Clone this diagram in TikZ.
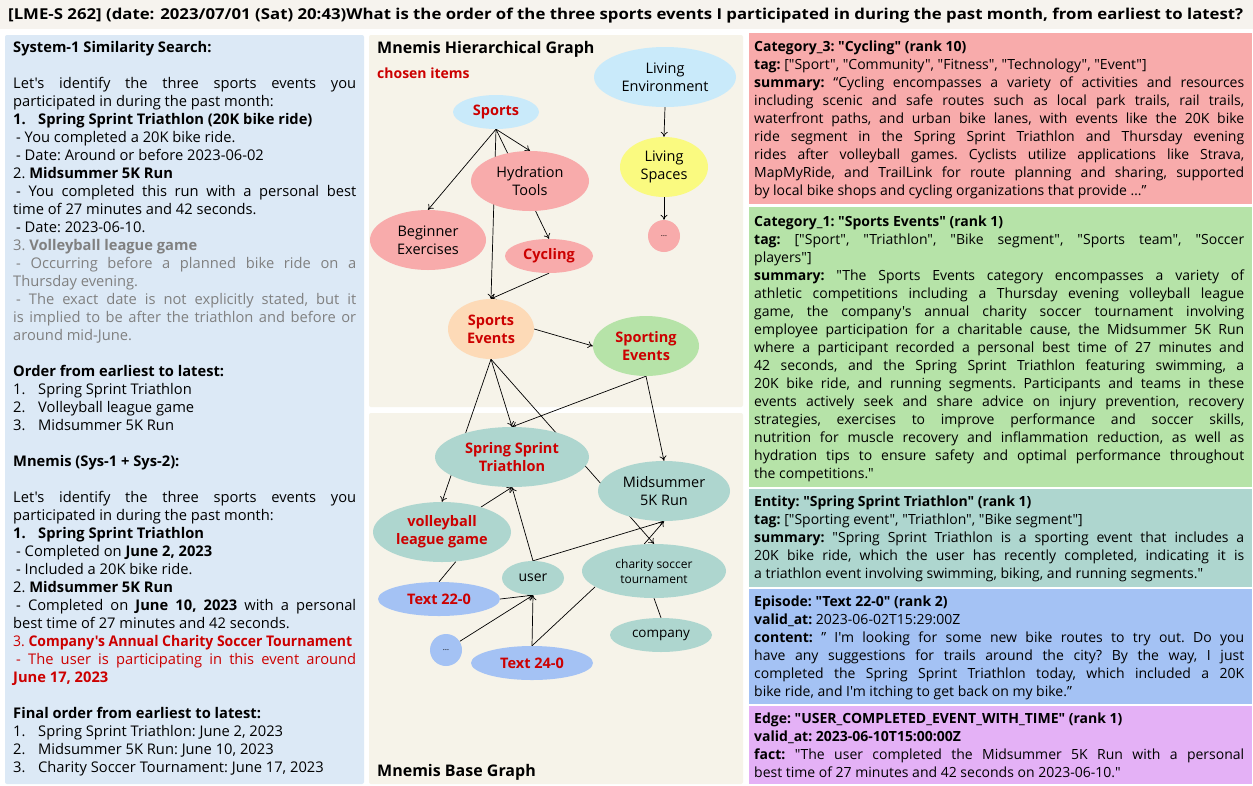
\documentclass[tikz,border=0pt]{standalone}
\usepackage{fontspec}
\usepackage{graphicx}
\setmainfont{Open Sans}[Ligatures=TeXOff]
\usetikzlibrary{shapes.geometric,arrows.meta}
\definecolor{titlebg}{HTML}{F6F3EE}
\definecolor{leftbg}{HTML}{DCE9F6}
\definecolor{midbg}{HTML}{F6F3E9}
\definecolor{cred}{HTML}{F8ABAB}
\definecolor{cgreen}{HTML}{B6E3A8}
\definecolor{cteal}{HTML}{AED6CF}
\definecolor{cblue}{HTML}{A4C2F4}
\definecolor{cpurple}{HTML}{E4B1F6}
\definecolor{clblue}{HTML}{C9EAFA}
\definecolor{cyellow}{HTML}{FAFA80}
\definecolor{cpeach}{HTML}{FDDAB7}
\definecolor{tred}{HTML}{CC0000}
\definecolor{tgray}{HTML}{808080}
\pgfdeclarelayer{bg}\pgfdeclarelayer{edges}\pgfsetlayers{bg,edges,main}
\newcommand\jline[1]{{\makebox[\linewidth][s]{#1}\par}}
\newcommand\pline[1]{{\mbox{#1}\par}}
\newcommand\fitline[2]{{\resizebox{#1}{\height}{#2}\par}}
\newcommand\blank{\mbox{}\par}
\newcommand\num[1]{\makebox[25pt][l]{#1}}
\newsavebox\titlebox
\tikzset{
  panel/.style={rounded corners=2pt, draw=none},
  txt/.style={anchor=base west, inner sep=0pt, font=\fontsize{14}{18}\selectfont\frenchspacing},
  ltxt/.style={anchor=base west, inner sep=0pt, font=\fontsize{14.7}{18}\selectfont\frenchspacing},
  el/.style n args={3}{ellipse, minimum width=#1pt, minimum height=#2pt, fill=#3, inner sep=0pt, align=center, font=\fontsize{14.5}{18}\selectfont},
  chosen/.style={text=tred, font=\fontsize{14.5}{18}\selectfont\bfseries},
  arr/.style={-{To[length=5pt,width=7pt]}, line width=0.7pt},
  ln/.style={line width=0.7pt},
  head/.style={anchor=base west, inner sep=0pt, font=\fontsize{16}{18}\selectfont\bfseries}
}
\begin{document}
\begin{tikzpicture}[x=1pt,y=-1pt]
\useasboundingbox (0,0) rectangle (1253,785);
\begin{pgfonlayer}{bg}
\fill[white] (0,0) rectangle (1253,785);
\fill[titlebg] (0,0) rectangle (1253,29);
\fill[panel, leftbg] (5,35) rectangle (364,784);
\fill[panel, midbg] (369,35) rectangle (743,407);
\fill[panel, midbg] (369,413) rectangle (743,784);
\fill[cred] (749,33) rectangle (1252,204);
\fill[cgreen] (749,207) rectangle (1252,487);
\fill[cteal] (749,489) rectangle (1252,587);
\fill[cblue] (749,589) rectangle (1252,704);
\fill[cpurple] (749,706) rectangle (1252,784);
\end{pgfonlayer}

% title
\node[anchor=base west, inner sep=0pt, font=\fontsize{15}{18}\selectfont\bfseries] (title) at (8,19.5)
 {\sbox\titlebox{[LME-S 262] (date: 2023/07/01 (Sat) 20:43)What is the order of the three sports events I participated in during the past month, from earliest to latest?}\resizebox{1235pt}{\height}{\usebox\titlebox}};

% left panel
\node[ltxt] (lefttext) at (13,52.5) {\begin{minipage}[t]{343pt}
\pline{\textbf{System-1 Similarity Search:}}
\blank
\jline{Let's identify the three sports events you}
\pline{participated in during the past month:}
\pline{\textbf{\num{1.}Spring Sprint Triathlon (20K bike ride)}}
\pline{\hspace{3pt}- You completed a 20K bike ride.}
\pline{\hspace{3pt}- Date: Around or before 2023-06-02}
\pline{2. \textbf{Midsummer 5K Run}}
\jline{\hspace{3pt}- You completed this run with a personal best}
\pline{time of 27 minutes and 42 seconds.}
\pline{\hspace{3pt}- Date: 2023-06-10.}
\pline{\color{tgray}3. \textbf{Volleyball league game}}
\jline{\color{tgray}\hspace{3pt}- Occurring before a planned bike ride on a}
\pline{\color{tgray}Thursday evening.}
\jline{\color{tgray}\hspace{3pt}- The exact date is not explicitly stated, but it}
\jline{\color{tgray}is implied to be after the triathlon and before or}
\pline{\color{tgray}around mid-June.}
\blank
\pline{\textbf{Order from earliest to latest:}}
\pline{\num{1.}Spring Sprint Triathlon}
\pline{\num{2.}Volleyball league game}
\pline{\num{3.}Midsummer 5K Run}
\blank
\pline{\textbf{Mnemis (Sys-1 + Sys-2):}}
\blank
\jline{Let's identify the three sports events you}
\pline{participated in during the past month:}
\pline{\textbf{\num{1.}Spring Sprint Triathlon}}
\pline{\hspace{3pt}- Completed on \textbf{June 2, 2023}}
\pline{\hspace{3pt}- Included a 20K bike ride.}
\pline{2. \textbf{Midsummer 5K Run}}
\jline{\hspace{3pt}- Completed on \textbf{June 10, 2023} with a personal}
\pline{best time of 27 minutes and 42 seconds.}
\fitline{339pt}{\color{tred}3. \textbf{Company's Annual Charity Soccer Tournament}}
\jline{\color{tred}\hspace{3pt}- The user is participating in this event around}
\pline{\color{tred}\textbf{June 17, 2023}}
\blank
\pline{\textbf{Final order from earliest to latest:}}
\pline{\num{1.}Spring Sprint Triathlon: June 2, 2023}
\pline{\num{2.}Midsummer 5K Run: June 10, 2023}
\pline{\num{3.}Charity Soccer Tournament: June 17, 2023}
\end{minipage}};

% right panels
\node[txt] (cycbox) at (754,51.5) {\begin{minipage}[t]{490pt}
\pline{\textbf{Category\_3: "Cycling" (rank 10)}}
\pline{\textbf{tag:} ["Sport", "Community", "Fitness", "Technology", "Event"]}
\jline{\textbf{summary:} “Cycling encompasses a variety of activities and resources}
\jline{including scenic and safe routes such as local park trails, rail trails,}
\jline{waterfront paths, and urban bike lanes, with events like the 20K bike}
\jline{ride segment in the Spring Sprint Triathlon and Thursday evening}
\jline{rides after volleyball games. Cyclists utilize applications like Strava,}
\jline{MapMyRide, and TrailLink for route planning and sharing, supported}
\pline{by local bike shops and cycling organizations that provide …”}
\end{minipage}};

\node[txt] (sevbox) at (754,226.5) {\begin{minipage}[t]{490pt}
\pline{\textbf{Category\_1: "Sports Events" (rank 1)}}
\jline{\textbf{tag:} ["Sport", "Triathlon", "Bike segment", "Sports team", "Soccer}
\pline{players"]}
\jline{\textbf{summary:} "The Sports Events category encompasses a variety of}
\jline{athletic competitions including a Thursday evening volleyball league}
\jline{game, the company's annual charity soccer tournament involving}
\jline{employee participation for a charitable cause, the Midsummer 5K Run}
\jline{where a participant recorded a personal best time of 27 minutes and}
\jline{42 seconds, and the Spring Sprint Triathlon featuring swimming, a}
\jline{20K bike ride, and running segments. Participants and teams in these}
\jline{events actively seek and share advice on injury prevention, recovery}
\jline{strategies, exercises to improve performance and soccer skills,}
\jline{nutrition for muscle recovery and inflammation reduction, as well as}
\jline{hydration tips to ensure safety and optimal performance throughout}
\pline{the competitions."}
\end{minipage}};

\node[txt] (entbox) at (754,506.5) {\begin{minipage}[t]{490pt}
\pline{\textbf{Entity: "Spring Sprint Triathlon" (rank 1)}}
\pline{\textbf{tag:} ["Sporting event", "Triathlon", "Bike segment"]}
\jline{\textbf{summary:} "Spring Sprint Triathlon is a sporting event that includes a}
\jline{20K bike ride, which the user has recently completed, indicating it is}
\pline{a triathlon event involving swimming, biking, and running segments."}
\end{minipage}};

\node[txt] (epibox) at (754,606.5) {\begin{minipage}[t]{490pt}
\pline{\textbf{Episode: "Text 22-0" (rank 2)}}
\pline{\textbf{valid\_at:} 2023-06-02T15:29:00Z}
\jline{\textbf{content:} ” I'm looking for some new bike routes to try out. Do you}
\jline{have any suggestions for trails around the city? By the way, I just}
\jline{completed the Spring Sprint Triathlon today, which included a 20K}
\pline{bike ride, and I'm itching to get back on my bike.”}
\end{minipage}};

\node[txt] (edgebox) at (754,723.5) {\begin{minipage}[t]{490pt}
\pline{\textbf{Edge: "USER\_COMPLETED\_EVENT\_WITH\_TIME" (rank 1)}}
\pline{\textbf{valid\_at: 2023-06-10T15:00:00Z}}
\jline{\textbf{fact:} "The user completed the Midsummer 5K Run with a personal}
\pline{best time of 27 minutes and 42 seconds on 2023-06-10."}
\end{minipage}};

% middle headings
\node[head] (hgtitle) at (377,53.5) {Mnemis Hierarchical Graph};
\node[anchor=base west, inner sep=0pt, font=\fontsize{14}{18}\selectfont\bfseries, text=tred] (chosen) at (377,78) {chosen items};
\node[head] (bgtitle) at (377,776.5) {Mnemis Base Graph};

% graph nodes
\node[el={142}{60}{clblue}] (le) at (665,77) {Living\\Environment};
\node[el={86}{34}{clblue}, chosen] (sports) at (496,112) {Sports};
\node[el={118}{60}{cred}] (hyd) at (530,181) {Hydration\\Tools};
\node[el={116}{60}{cred}] (beg) at (428,240) {Beginner\\Exercises};
\node[el={88}{34}{cred}, chosen] (cyc) at (549,256) {Cycling};
\node[el={88}{60}{cyellow}] (ls) at (664,167) {Living\\Spaces};
\node[el={32}{32}{cred}, font=\fontsize{8}{9}\selectfont] (dots1) at (664,236) {…};
\node[el={86}{60}{cpeach}, chosen] (sev) at (491,329) {Sports\\Events};
\node[el={106}{60}{cgreen}, chosen] (sporting) at (646,346) {Sporting\\Events};
\node[el={154}{60}{cteal}, chosen] (sst) at (512,457) {Spring Sprint\\Triathlon};
\node[el={132}{60}{cteal}] (mid) at (664,491) {Midsummer\\5K Run};
\node[el={138}{60}{cteal}, chosen] (vb) at (442,532) {volleyball\\league game};
\node[el={62}{34}{cteal}, font=\fontsize{14}{18}\selectfont] (user) at (533,578) {user};
\node[el={144}{54}{cteal}, font=\fontsize{12}{15}\selectfont] (charity) at (654,571) {charity soccer\\tournament};
\node[el={122}{34}{cblue}, chosen] (t22) at (439,599) {Text 22-0};
\node[el={32}{32}{cblue}, font=\fontsize{8}{9}\selectfont] (dots2) at (446,650) {…};
\node[el={122}{34}{cblue}, chosen] (t24) at (532,663) {Text 24-0};
\node[el={102}{34}{cteal}, font=\fontsize{13.5}{18}\selectfont] (company) at (661,635) {company};

\begin{pgfonlayer}{edges}
\draw[arr] (le.south) -- (ls.north);
\draw[arr] (ls.south) -- (dots1.north);
\draw[arr] (sports.south) -- (beg.north);
\draw[arr] (sports.south) -- (hyd.north);
\draw[arr] (sports.south) -- (cyc.north);
\draw[arr] (sports.south) -- (sev.north);
\draw[arr] (cyc.south) -- (sev.north);
\draw[arr] (sev.east) -- (sporting.west);
\draw[arr] (sev.south) -- (vb.north);
\draw[arr] (sev.south) -- (sst.north);
\draw[arr] (sev.south) -- (charity.north);
\draw[arr] (sporting.south) -- (sst.north);
\draw[arr] (sporting.south) -- (mid.north);
\draw[arr] (vb) -- (sst.south);
\draw[ln] (t22.north) -- (vb.-65);
\draw[arr] (t22.east) -- (user.south);
\draw[arr] (dots2) -- (user.south);
\draw[arr] (t24.north) -- (user.south);
\draw[ln] (t24.north) -- (charity.195);
\draw[arr] (user.north) -- (sst.south);
\draw[arr] (user.north) -- (mid.south);
\draw[arr] (charity.110) -- (mid.south);
\draw[ln] (charity.south) -- (company.north);
\end{pgfonlayer}
\end{tikzpicture}
\end{document}
